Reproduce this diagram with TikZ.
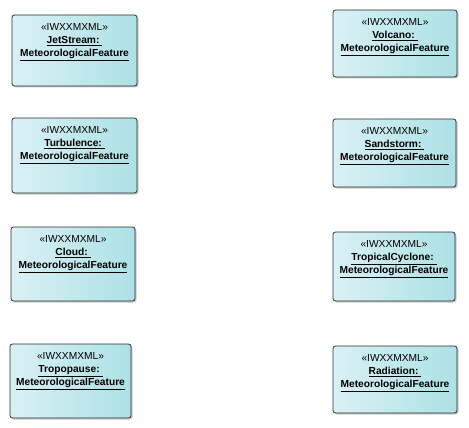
\documentclass[tikz,border=0pt]{standalone}
\usepackage{fontspec}
\setmainfont{Liberation Sans}
\usetikzlibrary{positioning,shadows}
\definecolor{featleft}{RGB}{218,241,245}
\definecolor{featright}{RGB}{172,225,229}
\definecolor{featline}{RGB}{45,45,45}

\tikzset{
  featbox/.style={draw=featline, line width=0.8pt, rounded corners=2.5pt, left color=featleft, right color=featright,
    drop shadow={shadow xshift=1.5pt, shadow yshift=-1.5pt, fill=black!35, opacity=0.6}},
  feattext/.style={anchor=north, align=center, inner sep=0pt, font=\fontsize{10.2}{13.3}\selectfont}
}

\begin{document}
\begin{tikzpicture}[x=1pt, y=-1pt]
    \useasboundingbox (0,0) rectangle (469,428);
    % left column
    \node[featbox, minimum width=125pt, minimum height=71pt] (jet) at (74.5,50.5) {};
    \node[feattext, below=8.5pt of jet.north] (jettext) {«IWXXMXML»\\ \textbf{\underline{JetStream:\ }}\\ \textbf{\underline{MeteorologicalFeature}}};
    \node[featbox, minimum width=125pt, minimum height=75pt] (turb) at (74.5,155.5) {};
    \node[feattext, below=8.5pt of turb.north] (turbtext) {«IWXXMXML»\\ \textbf{\underline{Turbulence:\ }}\\ \textbf{\underline{MeteorologicalFeature}}};
    \node[featbox, minimum width=124pt, minimum height=74pt] (cloud) at (73,264) {};
    \node[feattext, below=8.5pt of cloud.north] (cloudtext) {«IWXXMXML»\\ \textbf{\underline{Cloud:\ }}\\ \textbf{\underline{MeteorologicalFeature}}};
    \node[featbox, minimum width=121pt, minimum height=74pt] (trop) at (70.5,381) {};
    \node[feattext, below=8.5pt of trop.north] (troptext) {«IWXXMXML»\\ \textbf{\underline{Tropopause:\ }}\\ \textbf{\underline{MeteorologicalFeature}}};
    % right column
    \node[featbox, minimum width=124pt, minimum height=67pt] (volc) at (395,43.5) {};
    \node[feattext, below=8.5pt of volc.north] (volctext) {«IWXXMXML»\\ \textbf{\underline{Volcano:\ }}\\ \textbf{\underline{MeteorologicalFeature}}};
    \node[featbox, minimum width=123pt, minimum height=68pt] (sand) at (394.5,153) {};
    \node[feattext, below=8.5pt of sand.north] (sandtext) {«IWXXMXML»\\ \textbf{\underline{Sandstorm:\ }}\\ \textbf{\underline{MeteorologicalFeature}}};
    \node[featbox, minimum width=122pt, minimum height=69pt] (tc) at (394,266.5) {};
    \node[feattext, below=8.5pt of tc.north] (tctext) {«IWXXMXML»\\ \textbf{\underline{TropicalCyclone:\ }}\\ \textbf{\underline{MeteorologicalFeature}}};
    \node[featbox, minimum width=124pt, minimum height=67pt] (rad) at (395,379.5) {};
    \node[feattext, below=8.5pt of rad.north] (radtext) {«IWXXMXML»\\ \textbf{\underline{Radiation:\ }}\\ \textbf{\underline{MeteorologicalFeature}}};
\end{tikzpicture}
\end{document}
